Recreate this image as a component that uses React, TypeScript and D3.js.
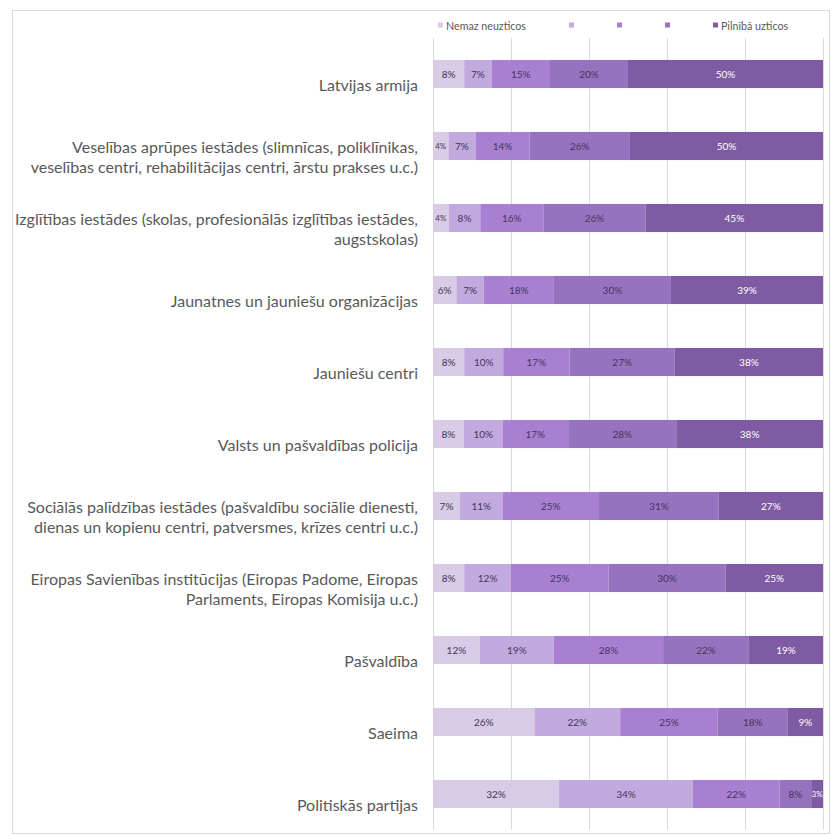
import React, { useEffect, useRef } from "react";
import * as d3 from "d3";

const categories = [
  "Latvijas armija",
  "Veselības aprūpes iestādes (slimnīcas, poliklīnikas,\nveselības centri, rehabilitācijas centri, ārstu prakses u.c.)",
  "Izglītības iestādes (skolas, profesionālās izglītības iestādes,\naugstskolas)",
  "Jaunatnes un jauniešu organizācijas",
  "Jauniešu centri",
  "Valsts un pašvaldības policija",
  "Sociālās palīdzības iestādes (pašvaldību sociālie dienesti,\ndienas un kopienu centri, patversmes, krīzes centri u.c.)",
  "Eiropas Savienības institūcijas (Eiropas Padome, Eiropas\nParlaments, Eiropas Komisija u.c.)",
  "Pašvaldība",
  "Saeima",
  "Politiskās partijas",
];

const seriesNames = ["Nemaz neuzticos", "", "", "", "Pilnībā uzticos"];

const level1 = [8, 4, 4, 6, 8, 8, 7, 8, 12, 26, 32];
const level2 = [7, 7, 8, 7, 10, 10, 11, 12, 19, 22, 34];
const level3 = [15, 14, 16, 18, 17, 17, 25, 25, 28, 25, 22];
const level4 = [20, 26, 26, 30, 27, 28, 31, 30, 22, 18, 8];
const level5 = [50, 50, 45, 39, 38, 38, 27, 25, 19, 9, 3];

const xTicks = [0, 0.2, 0.4, 0.6, 0.8, 1];

const colors = ["#d7cbe5", "#c2a9de", "#a980d1", "#9772bf", "#7e5ba3"];
const labelColors = ["#45355e", "#45355e", "#45355e", "#45355e", "#ffffff"];

export default function App() {
  const ref = useRef<SVGSVGElement>(null);

  useEffect(() => {
    const svg = d3.select(ref.current);
    svg.selectAll("*").remove();

    const left = 433, right = 823, top = 38, bottom = 830;

    const levels = [level1, level2, level3, level4, level5];
    const keys = ["l1", "l2", "l3", "l4", "l5"];
    const table = categories.map((c, i) => {
      const row: any = { cat: c };
      keys.forEach((k, j) => (row[k] = levels[j][i]));
      return row;
    });
    const stacked = d3.stack<any>().keys(keys).offset(d3.stackOffsetExpand)(table);

    const x = d3.scaleLinear().domain([0, 1]).range([left, right]);
    const y = d3
      .scaleBand<string>()
      .domain(categories)
      .range([top, bottom])
      .paddingInner(0.61)
      .paddingOuter(0.305);

    svg
      .append("rect")
      .attr("x", 12.5)
      .attr("y", 10.5)
      .attr("width", 817)
      .attr("height", 823)
      .attr("fill", "#ffffff")
      .attr("stroke", "#d9d9d9");

    svg
      .append("g")
      .selectAll("line")
      .data(xTicks)
      .join("line")
      .attr("x1", (d) => Math.round(x(d)) + 0.5)
      .attr("x2", (d) => Math.round(x(d)) + 0.5)
      .attr("y1", top)
      .attr("y2", bottom)
      .attr("stroke", "#d9d9d9")
      .attr("stroke-width", 1);

    const groups = svg
      .append("g")
      .selectAll("g")
      .data(stacked)
      .join("g")
      .attr("fill", (_d, i) => colors[i]);

    groups
      .selectAll("rect")
      .data((d) => d.map((p) => ({ p, cat: p.data.cat })))
      .join("rect")
      .attr("x", (d) => x(d.p[0]))
      .attr("width", (d) => x(d.p[1]) - x(d.p[0]))
      .attr("y", (d) => y(d.cat)!)
      .attr("height", y.bandwidth());

    stacked.forEach((s, si) => {
      svg
        .append("g")
        .selectAll("text")
        .data(s.map((p, i) => ({ p, cat: p.data.cat, v: levels[si][i] })))
        .join("text")
        .attr("x", (d) => (x(d.p[0]) + x(d.p[1])) / 2)
        .attr("y", (d) => y(d.cat)! + y.bandwidth() / 2)
        .attr("text-anchor", "middle")
        .attr("dominant-baseline", "central")
        .attr("font-family", "Lato, 'Open Sans', sans-serif")
        .attr("font-size", (d) => (x(d.p[1]) - x(d.p[0]) < 16 ? 8 : 10))
        .attr("fill", labelColors[si])
        .text((d) => `${d.v}%`);
    });

    const catG = svg.append("g");
    categories.forEach((c) => {
      const lines = c.split("\n");
      const cy = y(c)! + y.bandwidth() / 2 + 10;
      const t = catG
        .append("text")
        .attr("text-anchor", "end")
        .attr("font-family", "Lato, 'Open Sans', sans-serif")
        .attr("font-size", 16)
        .attr("fill", "#595959");
      lines.forEach((ln, i) => {
        t.append("tspan")
          .attr("x", 418)
          .attr("y", cy + (i - (lines.length - 1) / 2) * 20)
          .attr("dominant-baseline", "central")
          .text(ln);
      });
    });

    const leg = svg.append("g");
    let lx = 438;
    const ly = 25;
    seriesNames.forEach((name, i) => {
      leg
        .append("rect")
        .attr("x", lx)
        .attr("y", ly - 2.5)
        .attr("width", 5)
        .attr("height", 5)
        .attr("fill", colors[i]);
      let w = 0;
      if (name) {
        const t = leg
          .append("text")
          .attr("x", lx + 8)
          .attr("y", ly)
          .attr("dominant-baseline", "central")
          .attr("font-family", "Lato, 'Open Sans', sans-serif")
          .attr("font-size", 10.7)
          .attr("fill", "#595959")
          .text(name);
        w = (t.node() as SVGTextElement).getComputedTextLength() + 3;
      }
      lx += 5 + w + 43;
    });
  }, []);

  return (
    <>
      <style>{`body{margin:0}`}</style>
      <svg ref={ref} width={832} height={836} style={{ display: "block" }} />
    </>
  );
}
